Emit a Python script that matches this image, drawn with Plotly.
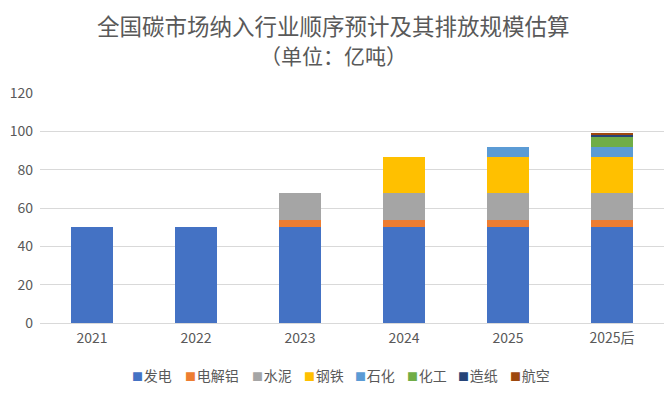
import plotly.graph_objects as go

categories = ["2021", "2022", "2023", "2024", "2025", "2025后"]
series_names = ["发电", "电解铝", "水泥", "钢铁", "石化", "化工", "造纸", "航空"]
power = [50, 50, 50, 50, 50, 50]
aluminium = [0, 0, 4, 4, 4, 4]
cement = [0, 0, 14, 14, 14, 14]
steel = [0, 0, 0, 18.7, 18.7, 18.7]
petrochem = [0, 0, 0, 0, 5.2, 5.2]
chemical = [0, 0, 0, 0, 0, 5.5]
paper = [0, 0, 0, 0, 0, 0.7]
aviation = [0, 0, 0, 0, 0, 1.2]
series_values = [power, aluminium, cement, steel, petrochem, chemical, paper, aviation]
colors = ["#4472C4", "#ED7D31", "#A5A5A5", "#FFC000", "#5B9BD5", "#70AD47", "#264478", "#9E480E"]
y_ticks = [0, 20, 40, 60, 80, 100, 120]
title_lines = ["全国碳市场纳入行业顺序预计及其排放规模估算", "（单位：亿吨）"]

FONT = "Noto Sans CJK SC"
GRAY = "#595959"

fig = go.Figure()
for name, vals, col in zip(series_names, series_values, colors):
    fig.add_trace(go.Bar(name=name, x=categories, y=vals, marker=dict(color=col, line=dict(width=0)),
                         showlegend=False))

L, R, T, B = 40, 3, 93, 70
W, H = 667, 393
pw = W - L - R
ph = H - T - B


def px2x(px):
    return (px - L) / pw


def py2y(py):
    return (H - B - py) / ph


annotations = []
# title as two centered lines
for line, py, size in zip(title_lines, [25, 55], [22.5, 21]):
    annotations.append(dict(x=px2x(333.5), y=py2y(py), xref="paper", yref="paper",
                            xanchor="center", yanchor="middle", showarrow=False, text=line,
                            font=dict(family=FONT, size=size, color=GRAY)))

# manual legend
legend_px = [130, 183, 250, 302, 353, 405, 456, 508]
for name, col, px in zip(series_names, colors, legend_px):
    annotations.append(dict(
        x=px2x(px), y=py2y(375), xref="paper", yref="paper",
        xanchor="left", yanchor="middle", showarrow=False,
        text=f"<span style='color:{col};font-size:11px'>■</span><span style='font-size:3px'> </span>{name}",
        font=dict(family=FONT, size=14, color=GRAY)))

fig.update_layout(
    width=W, height=H,
    margin=dict(l=L, r=R, t=T, b=B, autoexpand=False),
    barmode="stack", bargap=0.6,
    paper_bgcolor="white", plot_bgcolor="white",
    font=dict(family=FONT, color=GRAY, size=14),
    xaxis=dict(showgrid=False, showline=True, linecolor="#D9D9D9", linewidth=1, automargin=False,
               tickfont=dict(family=FONT, size=14, color=GRAY), ticks="", ticklabelstandoff=2),
    yaxis=dict(range=[0, 120], tickvals=y_ticks, showgrid=True, gridcolor="#D9D9D9", gridwidth=1,
               zeroline=False, showline=False, ticks="", automargin=False,
               tickfont=dict(family=FONT, size=14, color=GRAY), ticklabelstandoff=6),
    annotations=annotations,
)

fig.write_html("out.html", config={"displayModeBar": False},
               post_script="document.body.style.margin='0';")
